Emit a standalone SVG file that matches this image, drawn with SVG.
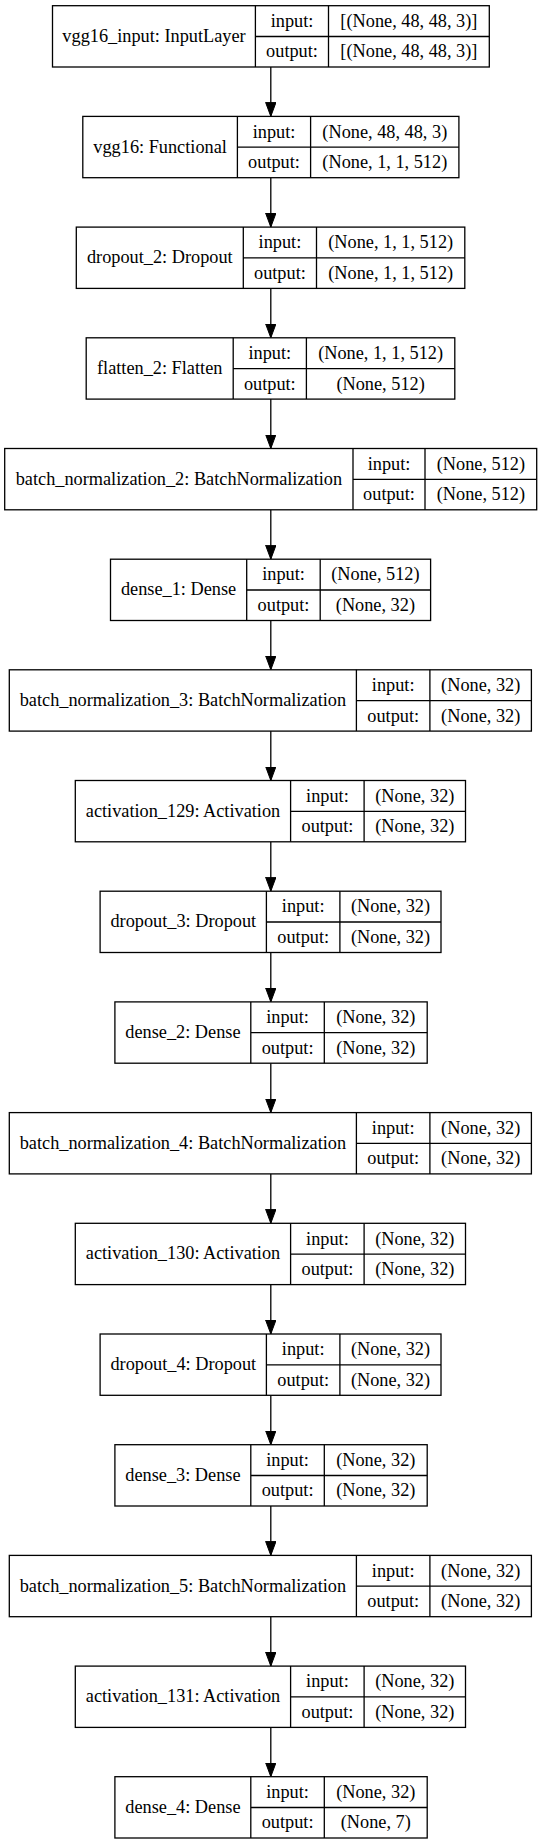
<svg xmlns="http://www.w3.org/2000/svg" width="541" height="1844" viewBox="0 0 541 1844">
<style>
.b{fill:#fff;stroke:#000;stroke-width:1.3}
.s{stroke:#000;stroke-width:1.3;fill:none}
text{font-family:"Liberation Serif","Times New Roman",serif;font-size:18.3px;fill:#000;text-anchor:middle}
.e{stroke:#000;stroke-width:1.3;fill:none;marker-end:url(#ah)}
</style>
<defs>
<marker id="ah" markerUnits="userSpaceOnUse" markerWidth="14" markerHeight="11" refX="14" refY="5.5" orient="auto" viewBox="0 0 14 11">
<path d="M0,0.3 L14,5.5 L0,10.7 z" fill="#000" stroke="#000" stroke-width="1"/>
</marker>
</defs>
<rect width="541" height="1844" fill="#fff"/>
<g id="connectors">
<line class="e" x1="270.8" y1="67" x2="270.8" y2="116.4"/>
<line class="e" x1="270.8" y1="177.7" x2="270.8" y2="227.1"/>
<line class="e" x1="270.8" y1="288.4" x2="270.8" y2="337.8"/>
<line class="e" x1="270.8" y1="399.1" x2="270.8" y2="448.5"/>
<line class="e" x1="270.8" y1="509.8" x2="270.8" y2="559.2"/>
<line class="e" x1="270.8" y1="620.5" x2="270.8" y2="669.8"/>
<line class="e" x1="270.8" y1="731.1" x2="270.8" y2="780.5"/>
<line class="e" x1="270.8" y1="841.8" x2="270.8" y2="891.2"/>
<line class="e" x1="270.8" y1="952.5" x2="270.8" y2="1001.9"/>
<line class="e" x1="270.8" y1="1063.2" x2="270.8" y2="1112.6"/>
<line class="e" x1="270.8" y1="1173.9" x2="270.8" y2="1223.3"/>
<line class="e" x1="270.8" y1="1284.6" x2="270.8" y2="1334"/>
<line class="e" x1="270.8" y1="1395.3" x2="270.8" y2="1444.7"/>
<line class="e" x1="270.8" y1="1506" x2="270.8" y2="1555.4"/>
<line class="e" x1="270.8" y1="1616.7" x2="270.8" y2="1666.1"/>
<line class="e" x1="270.8" y1="1727.4" x2="270.8" y2="1776.7"/>
</g>
<g id="vgg16_input" transform="translate(0,5.7)">
<rect class="b" x="52.5" y="0" width="436.8" height="61.3"/>
<path class="s" d="M255.4,0V61.3M328.5,0V61.3M255.4,30.8H489.3"/>
<text x="154" y="36.2">vgg16_input: InputLayer</text>
<text x="292" y="21.3">input:</text><text x="292" y="51.8">output:</text>
<text x="408.9" y="21.3">[(None, 48, 48, 3)]</text><text x="408.9" y="51.8">[(None, 48, 48, 3)]</text>
</g>
<g id="vgg16" transform="translate(0,116.4)">
<rect class="b" x="82.8" y="0" width="376.1" height="61.3"/>
<path class="s" d="M237.4,0V61.3M310.6,0V61.3M237.4,30.8H458.9"/>
<text x="160.1" y="36.2">vgg16: Functional</text>
<text x="274" y="21.3">input:</text><text x="274" y="51.8">output:</text>
<text x="384.8" y="21.3">(None, 48, 48, 3)</text><text x="384.8" y="51.8">(None, 1, 1, 512)</text>
</g>
<g id="dropout_2" transform="translate(0,227.1)">
<rect class="b" x="76.3" y="0" width="388.5" height="61.3"/>
<path class="s" d="M243.3,0V61.3M316.5,0V61.3M243.3,30.8H464.8"/>
<text x="159.8" y="36.2">dropout_2: Dropout</text>
<text x="279.9" y="21.3">input:</text><text x="279.9" y="51.8">output:</text>
<text x="390.7" y="21.3">(None, 1, 1, 512)</text><text x="390.7" y="51.8">(None, 1, 1, 512)</text>
</g>
<g id="flatten_2" transform="translate(0,337.8)">
<rect class="b" x="86.2" y="0" width="368.6" height="61.3"/>
<path class="s" d="M233.2,0V61.3M306.4,0V61.3M233.2,30.8H454.8"/>
<text x="159.7" y="36.2">flatten_2: Flatten</text>
<text x="269.8" y="21.3">input:</text><text x="269.8" y="51.8">output:</text>
<text x="380.6" y="21.3">(None, 1, 1, 512)</text><text x="380.6" y="51.8">(None, 512)</text>
</g>
<g id="batch_normalization_2" transform="translate(0,448.5)">
<rect class="b" x="4.7" y="0" width="532" height="61.3"/>
<path class="s" d="M353,0V61.3M425,0V61.3M353,30.8H536.7"/>
<text x="178.9" y="36.2">batch_normalization_2: BatchNormalization</text>
<text x="389" y="21.3">input:</text><text x="389" y="51.8">output:</text>
<text x="480.9" y="21.3">(None, 512)</text><text x="480.9" y="51.8">(None, 512)</text>
</g>
<g id="dense_1" transform="translate(0,559.2)">
<rect class="b" x="110.5" y="0" width="320.1" height="61.3"/>
<path class="s" d="M246.7,0V61.3M320.2,0V61.3M246.7,30.8H430.6"/>
<text x="178.6" y="36.2">dense_1: Dense</text>
<text x="283.5" y="21.3">input:</text><text x="283.5" y="51.8">output:</text>
<text x="375.4" y="21.3">(None, 512)</text><text x="375.4" y="51.8">(None, 32)</text>
</g>
<g id="batch_normalization_3" transform="translate(0,669.8)">
<rect class="b" x="9.3" y="0" width="522.1" height="61.3"/>
<path class="s" d="M356.4,0V61.3M429.9,0V61.3M356.4,30.8H531.4"/>
<text x="182.9" y="36.2">batch_normalization_3: BatchNormalization</text>
<text x="393.2" y="21.3">input:</text><text x="393.2" y="51.8">output:</text>
<text x="480.7" y="21.3">(None, 32)</text><text x="480.7" y="51.8">(None, 32)</text>
</g>
<g id="activation_129" transform="translate(0,780.5)">
<rect class="b" x="75.3" y="0" width="390.2" height="61.3"/>
<path class="s" d="M290.6,0V61.3M364.1,0V61.3M290.6,30.8H465.5"/>
<text x="183" y="36.2">activation_129: Activation</text>
<text x="327.4" y="21.3">input:</text><text x="327.4" y="51.8">output:</text>
<text x="414.8" y="21.3">(None, 32)</text><text x="414.8" y="51.8">(None, 32)</text>
</g>
<g id="dropout_3" transform="translate(0,891.2)">
<rect class="b" x="100.1" y="0" width="340.9" height="61.3"/>
<path class="s" d="M266.4,0V61.3M339.9,0V61.3M266.4,30.8H441"/>
<text x="183.3" y="36.2">dropout_3: Dropout</text>
<text x="303.2" y="21.3">input:</text><text x="303.2" y="51.8">output:</text>
<text x="390.5" y="21.3">(None, 32)</text><text x="390.5" y="51.8">(None, 32)</text>
</g>
<g id="dense_2" transform="translate(0,1001.9)">
<rect class="b" x="114.9" y="0" width="312.3" height="61.3"/>
<path class="s" d="M250.8,0V61.3M324.3,0V61.3M250.8,30.8H427.2"/>
<text x="182.9" y="36.2">dense_2: Dense</text>
<text x="287.6" y="21.3">input:</text><text x="287.6" y="51.8">output:</text>
<text x="375.8" y="21.3">(None, 32)</text><text x="375.8" y="51.8">(None, 32)</text>
</g>
<g id="batch_normalization_4" transform="translate(0,1112.6)">
<rect class="b" x="9.3" y="0" width="522.1" height="61.3"/>
<path class="s" d="M356.4,0V61.3M429.9,0V61.3M356.4,30.8H531.4"/>
<text x="182.9" y="36.2">batch_normalization_4: BatchNormalization</text>
<text x="393.2" y="21.3">input:</text><text x="393.2" y="51.8">output:</text>
<text x="480.7" y="21.3">(None, 32)</text><text x="480.7" y="51.8">(None, 32)</text>
</g>
<g id="activation_130" transform="translate(0,1223.3)">
<rect class="b" x="75.3" y="0" width="390.2" height="61.3"/>
<path class="s" d="M290.6,0V61.3M364.1,0V61.3M290.6,30.8H465.5"/>
<text x="183" y="36.2">activation_130: Activation</text>
<text x="327.4" y="21.3">input:</text><text x="327.4" y="51.8">output:</text>
<text x="414.8" y="21.3">(None, 32)</text><text x="414.8" y="51.8">(None, 32)</text>
</g>
<g id="dropout_4" transform="translate(0,1334)">
<rect class="b" x="100.1" y="0" width="340.9" height="61.3"/>
<path class="s" d="M266.4,0V61.3M339.9,0V61.3M266.4,30.8H441"/>
<text x="183.3" y="36.2">dropout_4: Dropout</text>
<text x="303.2" y="21.3">input:</text><text x="303.2" y="51.8">output:</text>
<text x="390.5" y="21.3">(None, 32)</text><text x="390.5" y="51.8">(None, 32)</text>
</g>
<g id="dense_3" transform="translate(0,1444.7)">
<rect class="b" x="114.9" y="0" width="312.3" height="61.3"/>
<path class="s" d="M250.8,0V61.3M324.3,0V61.3M250.8,30.8H427.2"/>
<text x="182.9" y="36.2">dense_3: Dense</text>
<text x="287.6" y="21.3">input:</text><text x="287.6" y="51.8">output:</text>
<text x="375.8" y="21.3">(None, 32)</text><text x="375.8" y="51.8">(None, 32)</text>
</g>
<g id="batch_normalization_5" transform="translate(0,1555.4)">
<rect class="b" x="9.3" y="0" width="522.1" height="61.3"/>
<path class="s" d="M356.4,0V61.3M429.9,0V61.3M356.4,30.8H531.4"/>
<text x="182.9" y="36.2">batch_normalization_5: BatchNormalization</text>
<text x="393.2" y="21.3">input:</text><text x="393.2" y="51.8">output:</text>
<text x="480.7" y="21.3">(None, 32)</text><text x="480.7" y="51.8">(None, 32)</text>
</g>
<g id="activation_131" transform="translate(0,1666.1)">
<rect class="b" x="75.3" y="0" width="390.2" height="61.3"/>
<path class="s" d="M290.6,0V61.3M364.1,0V61.3M290.6,30.8H465.5"/>
<text x="183" y="36.2">activation_131: Activation</text>
<text x="327.4" y="21.3">input:</text><text x="327.4" y="51.8">output:</text>
<text x="414.8" y="21.3">(None, 32)</text><text x="414.8" y="51.8">(None, 32)</text>
</g>
<g id="dense_4" transform="translate(0,1776.7)">
<rect class="b" x="114.9" y="0" width="312.3" height="61.3"/>
<path class="s" d="M250.8,0V61.3M324.3,0V61.3M250.8,30.8H427.2"/>
<text x="182.9" y="36.2">dense_4: Dense</text>
<text x="287.6" y="21.3">input:</text><text x="287.6" y="51.8">output:</text>
<text x="375.8" y="21.3">(None, 32)</text><text x="375.8" y="51.8">(None, 7)</text>
</g>
</svg>
